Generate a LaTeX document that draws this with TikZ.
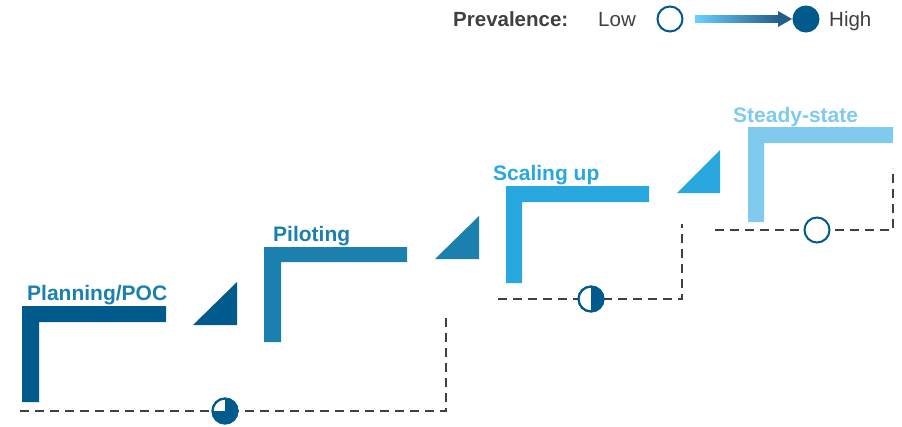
\documentclass[tikz,border=0pt]{standalone}
\usepackage{fontspec}
\setmainfont{Liberation Sans}
\definecolor{cA}{HTML}{005A8C}
\definecolor{cB}{HTML}{1B80AD}
\definecolor{cC}{HTML}{29A8E0}
\definecolor{cD}{HTML}{80CAEE}
\definecolor{dashgray}{HTML}{404040}
\definecolor{txtgray}{HTML}{404040}
\definecolor{arrowlight}{HTML}{6ACFFF}
\definecolor{arrowdark}{HTML}{245C8A}
\begin{document}
\begin{tikzpicture}[x=1pt,y=-1pt,
 stagelabel/.style={anchor=base west, inner sep=0pt, font=\fontsize{21}{21}\selectfont\bfseries},
 legendtext/.style={anchor=base west, inner sep=0pt, text=txtgray, font=\fontsize{20.5}{20.5}\selectfont},
 dashline/.style={draw=dashgray, line width=2.6pt, dash pattern=on 9pt off 6pt},
 marker/.style={circle, draw=cA, line width=2pt, fill=white, minimum size=25pt, inner sep=0pt},
]
\useasboundingbox (0,0) rectangle (902,426);

% legend
\node[legendtext, font=\fontsize{20.5}{20.5}\selectfont\bfseries] (prev) at (453,26) {Prevalence:};
\node[legendtext] (low) at (598,26) {Low};
\node[legendtext] (high) at (829,26) {High};
\node[marker] (lowc) at (670,19) {};
\node[marker, fill=cA] (highc) at (806,19) {};
\shade[left color=arrowlight, right color=arrowdark] (695,15.5) rectangle (780,22.5);
\fill[arrowdark] (778,11) -- (792,19) -- (778,27) -- cycle;

% dashed levels
\coordinate (d1s) at (20,411); \coordinate (d1c) at (446,411); \coordinate (d1e) at (446,317);
\coordinate (d2s) at (498,299); \coordinate (d2c) at (682,299); \coordinate (d2e) at (682,224);
\coordinate (d3s) at (715,230); \coordinate (d3c) at (893,230); \coordinate (d3e) at (893,168);
\draw[dashline] (d1s) -- (d1c) -- (d1e);
\draw[dashline] (d2s) -- (d2c) -- (d2e);
\draw[dashline] (d3s) -- (d3c) -- (d3e);

% markers
\node[marker] (m1) at (225,411) {};
\fill[cA] (m1.center) -- ++(-90:12.5) arc[start angle=-90, end angle=180, radius=12.5] -- cycle;
\draw[cA, line width=2pt] (m1.center) circle[radius=12.5];
\node[marker] (m2) at (591,299) {};
\fill[cA] (m2.center) -- ++(-90:12.5) arc[start angle=-90, end angle=90, radius=12.5] -- cycle;
\draw[cA, line width=2pt] (m2.center) circle[radius=12.5];
\node[marker] (m3) at (817,230) {};

% L-shaped steps
\fill[cA] (22,402) -- (22,306) -- (166,306) -- (166,322) -- (39,322) -- (39,402) -- cycle;
\fill[cB] (264,342) -- (264,247) -- (407,247) -- (407,262) -- (281,262) -- (281,342) -- cycle;
\fill[cC] (506,283) -- (506,186) -- (649,186) -- (649,202) -- (522,202) -- (522,283) -- cycle;
\fill[cD] (748,222) -- (748,127) -- (893,127) -- (893,143) -- (764,143) -- (764,222) -- cycle;

% triangles
\fill[cA] (193,325) -- (237,325) -- (237,282) -- cycle;
\fill[cB] (435,259) -- (479,259) -- (479,216) -- cycle;
\fill[cC] (677,193) -- (720,193) -- (720,150) -- cycle;

% labels
\node[stagelabel, text=cB] (l1) at (27,300) {Planning/POC};
\node[stagelabel, text=cB] (l2) at (273,241) {Piloting};
\node[stagelabel, text=cC] (l3) at (493,180) {Scaling up};
\node[stagelabel, text=cD] (l4) at (733,122) {Steady-state};
\end{tikzpicture}
\end{document}
